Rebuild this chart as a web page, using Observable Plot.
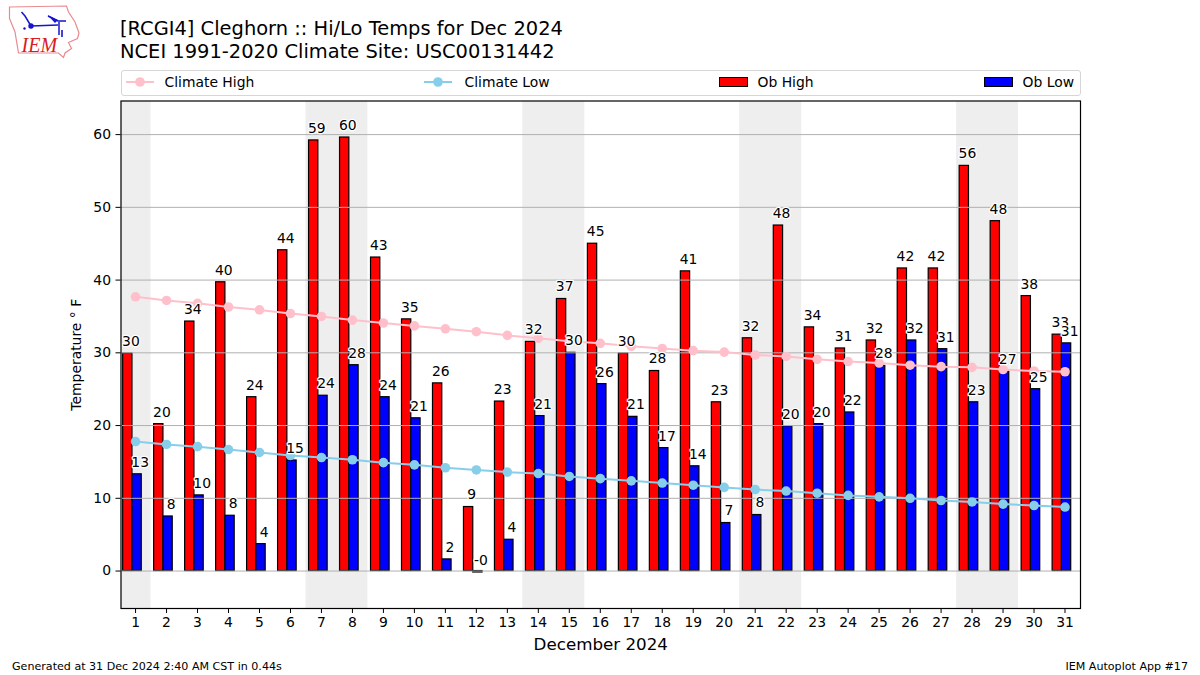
<!DOCTYPE html>
<html>
<head>
<meta charset="utf-8">
<script src="https://cdn.jsdelivr.net/npm/d3@7"></script>
<script src="https://cdn.jsdelivr.net/npm/@observablehq/plot@0.6"></script>
<style>
  html, body { margin: 0; padding: 0; background: #fff; }
  body { width: 1200px; height: 675px; overflow: hidden; position: relative; font-family: "DejaVu Sans", sans-serif; color: #000; }
  #header { position: relative; height: 100px; }
  #logo { position: absolute; left: 0; top: 0; }
  #title { position: absolute; left: 120px; top: 18px; font-size: 19.45px; line-height: 22.5px; white-space: nowrap; }
  #legend { position: absolute; left: 120.5px; top: 70px; width: 958px; height: 23.5px; border: 1px solid #d6d6d6; border-radius: 3px; box-sizing: content-box; }
  .entry { position: absolute; top: 0; height: 24px; font-size: 13.9px; line-height: 22px; white-space: nowrap; }
  .entry svg { position: absolute; left: 0; top: 0; }
  .entry span { position: absolute; top: 0; }
  #chart svg { display: block; }
  #footL, #footR { position: absolute; top: 660px; font-size: 11.1px; line-height: 13px; white-space: nowrap; }
  #footL { left: 12px; }
  #footR { right: 12px; }
</style>
</head>
<body>
<div id="header">
  <svg id="logo" width="90" height="65" viewBox="0 0 90 65">
    <path d="M9.5 7 L66.500 6 L68.500 12 L75 22 L79 33 L77.500 38.500 L68.500 42.500 L71.500 48.500 L65 53 L63.500 57.500 L58.500 53 L18.500 53 L15 32 L9.500 18.500 Z" fill="none" stroke="#e88a92" stroke-width="1.200"/>
    <path d="M21.500 12 L25 16 L31 26 M31 26 L58 25 M48 16 L58 21 L66 21 M59 22 L59 35" fill="none" stroke="#1414d2" stroke-width="1.500"/>
    <path d="M47.500 15 L58 20 L55 23 Z" fill="#1414d2"/>
    <path d="M62 30 L62 37" stroke="#1414d2" stroke-width="1.600" fill="none"/>
    <circle cx="31" cy="26" r="2.700" fill="#1414d2"/>
    <circle cx="24.500" cy="28.500" r="1.200" fill="#1414d2"/>
    <text x="21.500" y="52" font-family="Liberation Serif" font-style="italic" font-size="20" fill="#d81c24">IEM</text>
  </svg>
  <div id="title">[RCGI4] Cleghorn :: Hi/Lo Temps for Dec 2024<br>NCEI 1991-2020 Climate Site: USC00131442</div>
  <div id="legend"></div>
</div>
<div id="chart"></div>
<div id="footL">Generated at 31 Dec 2024 2:40 AM CST in 0.44s</div>
<div id="footR">IEM Autoplot App #17</div>
<script>
const days = d3.range(1, 32);
const obHigh = [29.9, 20.2, 34.3, 39.7, 23.9, 44.1, 59.2, 59.6, 43.1, 34.6, 25.8, 8.8, 23.3, 31.5, 37.4, 45.0, 29.9, 27.5, 41.2, 23.2, 32.0, 47.5, 33.5, 30.6, 31.7, 41.6, 41.6, 55.7, 48.1, 37.8, 32.5];
const obLow = [13.3, 7.5, 10.4, 7.6, 3.7, 15.2, 24.1, 28.3, 23.9, 21.0, 1.6, -0.2, 4.3, 21.3, 30.0, 25.7, 21.2, 16.9, 14.4, 6.6, 7.7, 19.9, 20.2, 21.8, 28.2, 31.7, 30.5, 23.2, 27.4, 25.0, 31.3];
const climHigh = [37.7, 37.2, 36.8, 36.3, 35.9, 35.4, 35.0, 34.5, 34.1, 33.7, 33.3, 32.9, 32.4, 32.0, 31.6, 31.3, 30.9, 30.6, 30.3, 30.1, 29.7, 29.5, 29.1, 28.8, 28.6, 28.3, 28.1, 28.0, 27.7, 27.5, 27.4];
const climLow = [17.8, 17.4, 17.1, 16.7, 16.3, 15.9, 15.6, 15.3, 14.9, 14.6, 14.2, 13.9, 13.6, 13.4, 13.0, 12.7, 12.4, 12.1, 11.8, 11.5, 11.2, 11.0, 10.7, 10.4, 10.2, 10.0, 9.7, 9.5, 9.2, 9.0, 8.8];
const weekends = [[0.5, 1.5], [6.5, 8.5], [13.5, 15.5], [20.5, 22.5], [27.5, 29.5]];
const yTicks = [0, 10, 20, 30, 40, 50, 60];
const yDomain = [-5.15, 64.62];
const xDomain = [0.53, 31.5];

const legendEntries = [
  {label: "Climate High", type: "line", color: "pink", left: 4, text: 43},
  {label: "Climate Low", type: "line", color: "skyblue", left: 302, text: 343},
  {label: "Ob High", type: "box", color: "red", left: 597, text: 636},
  {label: "Ob Low", type: "box", color: "blue", left: 862, text: 901}
];

const rows = days.map((d, i) => ({day: d, high: obHigh[i], low: obLow[i], ch: climHigh[i], cl: climLow[i]}));
const labels = rows.flatMap(r => [
  {x: r.day - 0.15, y: r.high, t: r.high.toFixed(0)},
  {x: r.day + 0.15, y: r.low, t: r.low.toFixed(0)}
]);

const legend = d3.select("#legend");
for (const e of legendEntries) {
  const g = legend.append("div").attr("class", "entry").style("left", e.left + "px");
  const s = g.append("svg").attr("width", 30).attr("height", 24);
  if (e.type === "line") {
    s.append("line").attr("x1", 0).attr("x2", 28).attr("y1", 11).attr("y2", 11).attr("stroke", e.color).attr("stroke-width", 2);
    s.append("circle").attr("cx", 14).attr("cy", 11).attr("r", 4.8).attr("fill", e.color);
  } else {
    s.append("rect").attr("x", 0.5).attr("y", 6.5).attr("width", 28).attr("height", 9).attr("fill", e.color).attr("stroke", "#000").attr("stroke-width", 1);
  }
  g.append("span").style("left", (e.text - e.left) + "px").text(e.label);
}

const chart = Plot.plot({
  width: 1200,
  height: 560,
  marginLeft: 120.5,
  marginRight: 120,
  marginTop: 0.5,
  marginBottom: 52,
  style: {fontFamily: "DejaVu Sans", background: "#fff", color: "#000"},
  x: {domain: xDomain},
  y: {domain: yDomain},
  marks: [
    Plot.rect(weekends, {x1: d => d[0], x2: d => d[1], y1: yDomain[0], y2: yDomain[1], fill: "#eeeeee", clip: true}),
    Plot.rect(rows, {x1: d => d.day - 0.4, x2: d => d.day - 0.1, y1: 0, y2: "high", fill: "red", stroke: "#000", strokeWidth: 1.2}),
    Plot.rect(rows, {x1: d => d.day - 0.1, x2: d => d.day + 0.2, y1: 0, y2: "low", fill: "blue", stroke: "#000", strokeWidth: 1.2}),
    Plot.ruleY(yTicks, {stroke: "#b0b0b0", strokeWidth: 1}),
    Plot.line(rows, {x: "day", y: "ch", stroke: "pink", strokeWidth: 2}),
    Plot.dot(rows, {x: "day", y: "ch", fill: "pink", r: 4.8}),
    Plot.line(rows, {x: "day", y: "cl", stroke: "skyblue", strokeWidth: 2}),
    Plot.dot(rows, {x: "day", y: "cl", fill: "skyblue", r: 4.8}),
    Plot.text(labels, {x: "x", y: "y", text: "t", dy: -12, fontSize: 13.9, fill: "#000", stroke: "#fff", strokeWidth: 2.5}),
    Plot.axisX({ticks: days, tickFormat: d => d, tickSize: 5, tickPadding: 4, fontSize: 13.9, label: "December 2024", labelAnchor: "center", labelArrow: "none", labelOffset: 41}),
    Plot.axisY({ticks: yTicks, tickSize: 5, tickPadding: 5, fontSize: 13.9, label: "Temperature ° F", labelAnchor: "center", labelArrow: "none", labelOffset: 50}),
    Plot.frame({stroke: "#000", strokeWidth: 1.2})
  ]
});
d3.select("#chart").node().append(chart);
// axis titles use larger type for the x axis only, as in the source figure
d3.select(chart).selectAll('[aria-label="x-axis label"] text').style("font-size", "16.7px");
</script>
</body>
</html>
